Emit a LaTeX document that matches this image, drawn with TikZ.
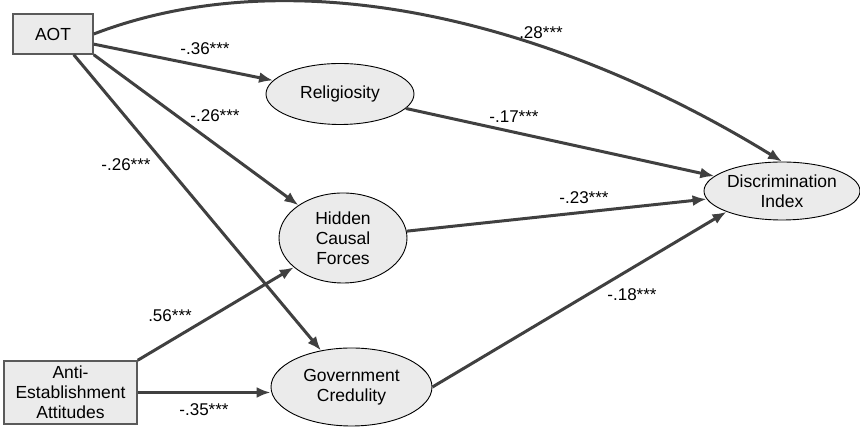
\documentclass[tikz,border=0pt]{standalone}
\usepackage{fontspec}
\setmainfont{Liberation Sans}
\usetikzlibrary{shapes.geometric,arrows.meta,positioning}
\definecolor{PathCol}{HTML}{404040}
\definecolor{LatentFill}{HTML}{EBEBEB}
\definecolor{BoxFill}{HTML}{EBEBEB}
\definecolor{BoxLine}{HTML}{5A5A5A}
\newcommand{\semfont}{\fontsize{17.5}{20}\selectfont}
\newcommand{\coeffont}{\fontsize{17}{20}\selectfont}
\tikzset{
  observed/.style ={
    shape = rectangle,
    draw = BoxLine,
    line width = 1.5pt,
    fill = BoxFill,
    inner sep = 0pt,
    align = center,
    font = \semfont,
    },
  latent/.style ={
    ellipse,
    draw = black,
    line width = 0.9pt,
    fill = LatentFill,
    inner sep = 0pt,
    align = center,
    font = \semfont,
    },
  coef/.style ={
    inner sep = 0pt,
    font = \coeffont,
    },
}
\tikzstyle{PathA} = [-{Latex[length=14pt,width=11pt]},PathCol,line width=3pt]

\begin{document}
\begin{tikzpicture}[x=1pt,y=1pt]
    \useasboundingbox (0,0) rectangle (860,427);

    % Variables

    \node[observed,minimum width=80pt,minimum height=40pt] (AOT) at (53,393) {AOT};
    \node[observed,minimum width=133pt,minimum height=63pt] (Anti) at (70.5,34.5)
        {Anti-\\Establishment\\Attitudes};

    \node[latent,minimum width=148pt,minimum height=61pt] (Rel) at (340,333) {Religiosity};
    \node[latent,minimum width=128pt,minimum height=90pt] (HCF) at (343,189)
        {Hidden\\Causal\\Forces};
    \node[latent,minimum width=161pt,minimum height=78pt] (Gov) at (351.5,40)
        {Government\\Credulity};

    \node[latent,minimum width=156pt,minimum height=58pt] (DI) at (782,236)
        {Discrimination\\Index};

    % Paths

    \draw[PathA] (AOT.east) .. controls (300,472) and (560,402) .. (DI.north);
    \draw[PathA] (AOT.-14) -- (Rel);
    \draw[PathA] (AOT.south east) -- (HCF);
    \draw[PathA] (AOT.-45) -- (Gov);

    \draw[PathA] (Anti.north east) -- (HCF);
    \draw[PathA] (Anti.east) -- (Anti.east -| Gov.west);

    \draw[PathA] (Rel) -- (DI);
    \draw[PathA] (HCF) -- (DI);
    \draw[PathA] (Gov.east) -- (DI.south west);

    % Coefficients

    \node[coef] (cAD) at (541,394) {.28***};
    \node[coef] (cAR) at (205,378) {-.36***};
    \node[coef] (cAH) at (215,311) {-.26***};
    \node[coef] (cAG) at (126,262) {-.26***};
    \node[coef] (cEH) at (170,111) {.56***};
    \node[coef] (cEG) at (204,17) {-.35***};
    \node[coef] (cRD) at (514,310) {-.17***};
    \node[coef] (cHD) at (584,229) {-.23***};
    \node[coef] (cGD) at (632,132) {-.18***};

\end{tikzpicture}
\end{document}
